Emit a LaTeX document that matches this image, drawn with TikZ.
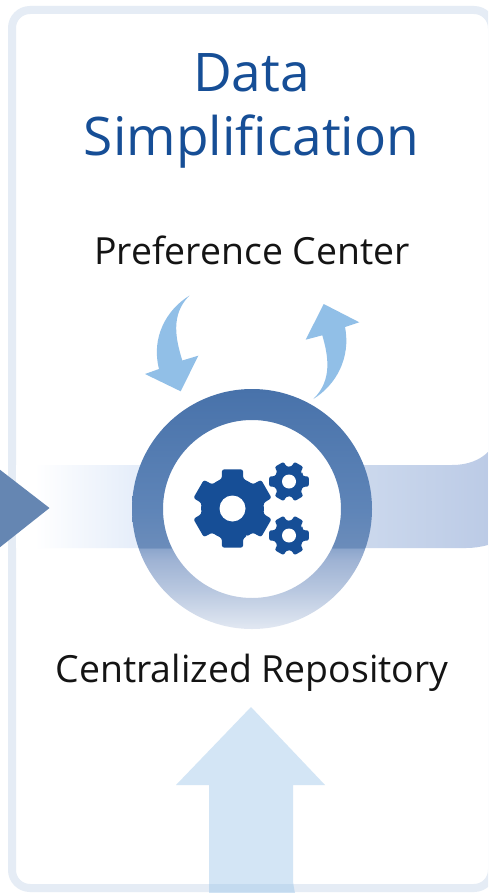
\documentclass[tikz,border=0pt]{standalone}
\usepackage{fontspec}
\setmainfont{Open Sans}
\definecolor{titleblue}{HTML}{164E96}
\definecolor{framecol}{HTML}{E5ECF5}
\definecolor{curvecol}{HTML}{91BFE7}
\definecolor{gearcol}{HTML}{164E96}
\definecolor{tricol}{HTML}{6586B2}
\pgfdeclareverticalshading{ringshadeb}{100bp}{%
 rgb(0bp)=(0.886,0.910,0.949);
 rgb(25bp)=(0.886,0.910,0.949);
 rgb(33bp)=(0.725,0.784,0.878);
 rgb(39.4bp)=(0.62,0.70,0.83);
 rgb(41.7bp)=(0.55,0.65,0.80);
 rgb(42bp)=(0.42,0.55,0.73);
 rgb(50bp)=(0.37,0.52,0.72);
 rgb(75bp)=(0.282,0.447,0.667);
 rgb(100bp)=(0.282,0.447,0.667)}
\pgfdeclarehorizontalshading{bandshade}{100bp}{%
 rgb(0bp)=(1,1,1);
 rgb(27bp)=(1,1,1);
 rgb(37bp)=(0.905,0.935,0.98);
 rgb(61bp)=(0.80,0.85,0.93);
 rgb(75bp)=(0.737,0.796,0.902);
 rgb(100bp)=(0.737,0.796,0.902)}
\tikzset{
 headline/.style={text=titleblue,font=\fontsize{53.2}{56}\selectfont,anchor=base},
 caption/.style={text=black!92,font=\fontsize{37.4}{40}\selectfont,anchor=base},
 curvearrow/.style={fill=curvecol,draw=none},
 gearfill/.style={fill=gearcol,even odd rule,rounded corners=2.2pt}
}
% #1 cx, #2 cy, #3 outer R, #4 root r, #5 hole, #6 start angle
\newcommand{\gearshape}[6]{%
 \fill[gearfill] ({#1+#4*cos(#6-27)},{#2+#4*sin(#6-27)})
 \foreach \ang in {0,60,...,300}{
  -- ({#1+#4*cos(#6+\ang-20)},{#2+#4*sin(#6+\ang-20)})
  -- ({#1+#3*cos(#6+\ang-15)},{#2+#3*sin(#6+\ang-15)})
  -- ({#1+#3*cos(#6+\ang+15)},{#2+#3*sin(#6+\ang+15)})
  -- ({#1+#4*cos(#6+\ang+20)},{#2+#4*sin(#6+\ang+20)})
  -- ({#1+#4*cos(#6+\ang+33)},{#2+#4*sin(#6+\ang+33)})
 } -- cycle;
 \fill[white] (#1,#2) circle (#5);
}
\begin{document}
\begin{tikzpicture}[x=1pt,y=-1pt]
\useasboundingbox (0,0) rectangle (488,893);
\clip (0,0) rectangle (488,893);
\fill[white] (0,0) rectangle (488,893);
% frame
\draw[framecol,line width=8pt,rounded corners=18pt] (12,10) rectangle (492,888);
% band
\shade[shading=bandshade] (16,465) -- (452,465) .. controls (468,465) and (480,460) .. (488,452) -- (488,545) .. controls (480,547) and (474,548) .. (466,548) -- (16,548) -- cycle;
% triangle
\fill[tricol] (-1,469) -- (49.5,508) -- (-1,548) -- cycle;
% ring
\fill[white] (252,509) circle (90);
\shade[shading=ringshadeb,even odd rule] (252,509) circle (120) (252,509) circle (89);
% curved arrows
\fill[curvearrow] (189.3,295.7) .. controls (166,310) and (151,338) .. (159,369) -- (145,374) -- (180.7,391.3) -- (198.3,355.7) -- (182.3,360.5) .. controls (176,340) and (170,315) .. (189.3,295.7) -- cycle;
\fill[curvearrow] (313.3,399) .. controls (336,385) and (351,358) .. (345,327) -- (359.3,322.3) -- (323.7,304) -- (305.7,339.7) -- (322.3,335.3) .. controls (328,355) and (333,380) .. (313.3,399) -- cycle;
% gears
\gearshape{232.5}{508.5}{40.5}{31.5}{13}{90}
\gearshape{289}{481.5}{20.5}{15}{7}{0}
\gearshape{289}{535.5}{20.5}{15}{7}{0}
% up arrow
\fill[curvecol,opacity=.4] (251,707) -- (325,785) -- (293,785) -- (293,878) .. controls (293,884) and (294,888) .. (295,893) -- (209,893) -- (209,785) -- (176,785) -- cycle;
% text
\node[headline] (t1) at (251.5,92) {Data};
\node[headline] (t2) at (251.5,156) {Simplification};
\node[caption] (c1) at (252,264) {Preference Center};
\node[caption] (c2) at (252,682) {Centralized Repository};
\end{tikzpicture}
\end{document}
